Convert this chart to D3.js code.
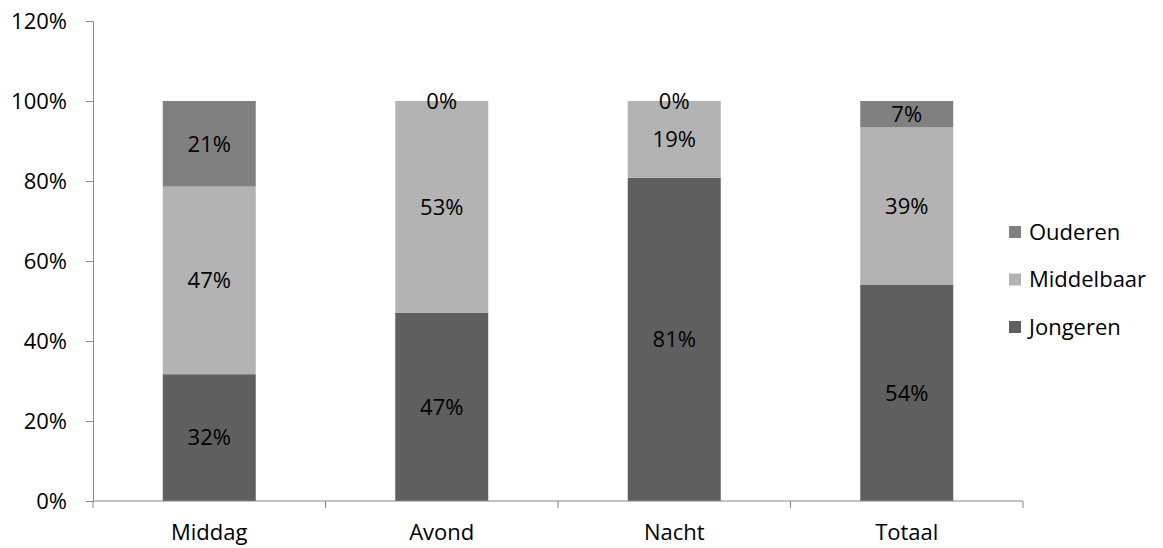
<!DOCTYPE html>
<html>
<head>
<meta charset="utf-8">
<script src="https://cdn.jsdelivr.net/npm/d3@7"></script>
<style>
  body { margin: 0; background: #fff; }
  text { font-family: "Open Sans", Lato, sans-serif; fill: #000; }
</style>
</head>
<body>
<svg id="chart" width="1163" height="548"></svg>
<script>
// data
const categories = ['Middag', 'Avond', 'Nacht', 'Totaal']
const seriesNames = ['Jongeren', 'Middelbaar', 'Ouderen']
const jongeren = [31.7, 47.1, 80.8, 54.0]
const middelbaar = [46.9, 52.9, 19.2, 39.4]
const ouderen = [21.4, 0, 0, 6.6]
const yTicks = [0, 20, 40, 60, 80, 100, 120]

const colors = { Jongeren: '#5f5f5f', Middelbaar: '#b3b3b3', Ouderen: '#808080' }

const rows = categories.map((c, i) => ({
  cat: c, Jongeren: jongeren[i], Middelbaar: middelbaar[i], Ouderen: ouderen[i]
}))

const svg = d3.select('#chart')
const plotLeft = 93
const plotRight = 1023
const plotTop = 21
const plotBottom = 501
const fontSize = '22px'

const x = d3.scaleBand().domain(categories).range([plotLeft, plotRight]).paddingInner(0.6).paddingOuter(0.3)
const xOuter = d3.scaleBand().domain(categories).range([plotLeft, plotRight])
const y = d3.scaleLinear().domain([0, 120]).range([plotBottom, plotTop])

const stack = d3.stack().keys(seriesNames)(rows)

// bars
const layers = svg.append('g').selectAll('g')
  .data(stack)
  .join('g')
  .attr('fill', d => colors[d.key])

layers.selectAll('rect')
  .data(d => d)
  .join('rect')
  .attr('x', d => x(d.data.cat))
  .attr('width', x.bandwidth())
  .attr('y', d => y(d[1]))
  .attr('height', d => y(d[0]) - y(d[1]))

// value labels
layers.selectAll('text')
  .data(d => d)
  .join('text')
  .attr('x', d => x(d.data.cat) + x.bandwidth() / 2)
  .attr('y', d => y((d[0] + d[1]) / 2))
  .attr('dy', '0.35em')
  .attr('text-anchor', 'middle')
  .style('font-size', fontSize)
  .text(d => Math.round(d[1] - d[0]) + '%')

// y axis
const yAxis = svg.append('g')
  .attr('transform', `translate(${plotLeft},0)`)
  .call(d3.axisLeft(y).tickValues(yTicks).tickSize(7).tickFormat(d => d + '%'))
yAxis.selectAll('path, line').attr('stroke', '#868686')
yAxis.selectAll('text').style('font-size', fontSize).attr('x', -26).attr('fill', '#000')

// x axis
const xAxis = svg.append('g')
  .attr('transform', `translate(0,${plotBottom})`)
xAxis.append('line')
  .attr('x1', plotLeft).attr('x2', plotRight)
  .attr('stroke', '#868686')
xAxis.selectAll('.tick')
  .data(categories.concat(['end']))
  .join('line')
  .attr('class', 'tick')
  .attr('x1', (d, i) => i < categories.length ? xOuter(d) : plotRight)
  .attr('x2', (d, i) => i < categories.length ? xOuter(d) : plotRight)
  .attr('y1', 0).attr('y2', 7)
  .attr('stroke', '#868686')
xAxis.selectAll('text')
  .data(categories)
  .join('text')
  .attr('x', d => xOuter(d) + xOuter.bandwidth() / 2)
  .attr('y', 31)
  .attr('dy', '0.35em')
  .attr('text-anchor', 'middle')
  .style('font-size', fontSize)
  .text(d => d)

// legend
const legend = svg.append('g')
  .selectAll('g')
  .data(seriesNames.slice().reverse())
  .join('g')
  .attr('transform', (d, i) => `translate(1009,${232 + i * 47.5})`)
legend.append('rect')
  .attr('y', -6).attr('width', 12).attr('height', 12)
  .attr('fill', d => colors[d])
legend.append('text')
  .attr('x', 20).attr('dy', '0.35em')
  .style('font-size', fontSize)
  .text(d => d)
</script>
</body>
</html>
